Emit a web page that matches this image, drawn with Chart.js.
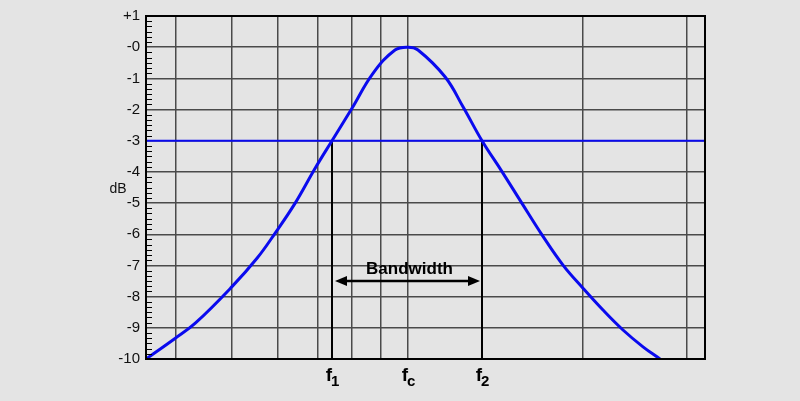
<!DOCTYPE html>
<html>
<head>
<meta charset="utf-8">
<script src="https://cdn.jsdelivr.net/npm/chart.js@4/dist/chart.umd.min.js"></script>
<style>
  html, body { margin: 0; padding: 0; background: #e4e4e4; }
  canvas { display: block; }
</style>
</head>
<body>
<canvas id="bw" width="800" height="401"></canvas>
<script>
// frequency axis in arbitrary units (0 = left edge, 559 = right edge)
const curveX  = [0, 29, 49, 86, 111, 129, 149, 169, 186, 206, 227, 249, 262, 272, 299, 317, 336, 356, 376, 396, 417, 437, 457, 477, 497, 514];
const curveDb = [-10, -9.34, -8.86, -7.68, -6.77, -5.97, -5.01, -3.89, -3, -1.96, -0.84, -0.09, 0, -0.09, -0.95, -1.91, -3, -3.99, -5.01, -6.02, -6.99, -7.73, -8.43, -9.07, -9.61, -10];
const gridX = [30, 86, 132, 172, 206, 235, 262, 437, 541];
const xMax = 559;
const halfPower = -3;
const f1 = 186, fc = 262, f2 = 336;
const markLabels = [["f", "1", f1], ["f", "c", fc], ["f", "2", f2]];
const arrowDb = -7.5;

const BLUE = "#0a0aee";
const FONT = "'Liberation Sans', Arial, sans-serif";

// --- drawing helpers ---
const extras = {
  id: "extras",
  beforeDraw(c) {
    const ctx = c.ctx;
    ctx.save();
    ctx.fillStyle = "#e4e4e4";
    ctx.fillRect(0, 0, c.width, c.height);
    ctx.restore();
  },
  afterDatasetsDraw(c) {
    const ctx = c.ctx, a = c.chartArea;
    const xs = c.scales.x, ys = c.scales.y;
    ctx.save();

    // minor ticks on the dB axis
    ctx.strokeStyle = "#000";
    ctx.lineWidth = 1;
    for (let v = -10; v < 1; v++) {
      for (let k = 1; k < 6; k++) {
        const y = Math.round(ys.getPixelForValue(v + k / 6)) + 0.5;
        ctx.beginPath();
        ctx.moveTo(a.left, y);
        ctx.lineTo(a.left + 6, y);
        ctx.stroke();
      }
    }

    // frame
    ctx.lineWidth = 2;
    ctx.strokeRect(a.left, a.top, a.right - a.left, a.bottom - a.top);

    // dB label
    ctx.fillStyle = "#111";
    ctx.font = "14px " + FONT;
    ctx.textAlign = "center";
    ctx.textBaseline = "middle";
    ctx.fillText("dB", 118, ys.getPixelForValue(-4.55));

    // bandwidth arrow
    const ay = ys.getPixelForValue(arrowDb);
    const ax1 = xs.getPixelForValue(f1) + 3, ax2 = xs.getPixelForValue(f2) - 2;
    ctx.strokeStyle = "#000";
    ctx.fillStyle = "#000";
    ctx.lineWidth = 2.5;
    ctx.beginPath();
    ctx.moveTo(ax1 + 8, ay);
    ctx.lineTo(ax2 - 8, ay);
    ctx.stroke();
    ctx.beginPath();
    ctx.moveTo(ax1, ay); ctx.lineTo(ax1 + 12, ay - 5); ctx.lineTo(ax1 + 12, ay + 5); ctx.closePath();
    ctx.fill();
    ctx.beginPath();
    ctx.moveTo(ax2, ay); ctx.lineTo(ax2 - 12, ay - 5); ctx.lineTo(ax2 - 12, ay + 5); ctx.closePath();
    ctx.fill();
    ctx.font = "bold 17px " + FONT;
    ctx.textAlign = "center";
    ctx.textBaseline = "alphabetic";
    ctx.fillText("Bandwidth", (ax1 + ax2) / 2 + 2, ay - 7);

    // f1, fc, f2 labels
    for (const [main, sub, v] of markLabels) {
      const x = xs.getPixelForValue(v);
      ctx.font = "bold 19px " + FONT;
      const w1 = ctx.measureText(main).width;
      ctx.font = "bold 15px " + FONT;
      const w2 = ctx.measureText(sub).width;
      const x0 = x - (w1 + w2) / 2 + 1;
      ctx.textAlign = "left";
      ctx.font = "bold 19px " + FONT;
      ctx.fillText(main, x0, a.bottom + 22);
      ctx.font = "bold 15px " + FONT;
      ctx.fillText(sub, x0 + w1 - 1, a.bottom + 27);
    }
    ctx.restore();
  }
};

new Chart(document.getElementById("bw"), {
  type: "line",
  data: {
    datasets: [
      {
        data: curveX.map((x, i) => ({ x: x, y: curveDb[i] })),
        borderColor: BLUE, borderWidth: 3, pointRadius: 0, tension: 0.4
      },
      {
        data: [{ x: 0, y: halfPower }, { x: xMax, y: halfPower }],
        borderColor: BLUE, borderWidth: 2, pointRadius: 0
      },
      {
        data: [{ x: f1, y: halfPower }, { x: f1, y: -10 }],
        borderColor: "#000", borderWidth: 2, pointRadius: 0
      },
      {
        data: [{ x: f2, y: halfPower }, { x: f2, y: -10 }],
        borderColor: "#000", borderWidth: 2, pointRadius: 0
      }
    ]
  },
  options: {
    responsive: false,
    animation: false,
    layout: { padding: { top: 16, right: 95, bottom: 0, left: 0 } },
    plugins: { legend: { display: false }, tooltip: { enabled: false } },
    scales: {
      x: {
        type: "linear", min: 0, max: xMax,
        afterBuildTicks: s => { s.ticks = gridX.map(v => ({ value: v })); },
        afterFit: s => { s.height = 42; },
        ticks: { display: false },
        grid: { color: "#4a4a4a", lineWidth: 1.5, drawTicks: false },
        border: { color: "#000", width: 2 }
      },
      y: {
        min: -10, max: 1,
        afterFit: s => { s.width = 146; },
        ticks: {
          stepSize: 1, padding: 6, color: "#111",
          font: { family: FONT, size: 15 },
          callback: v => v > 0 ? "+" + v : v === 0 ? "-0" : String(v)
        },
        grid: { color: "#4a4a4a", lineWidth: 1.5, drawTicks: false },
        border: { color: "#000", width: 2 }
      }
    }
  },
  plugins: [extras]
});
</script>
</body>
</html>
